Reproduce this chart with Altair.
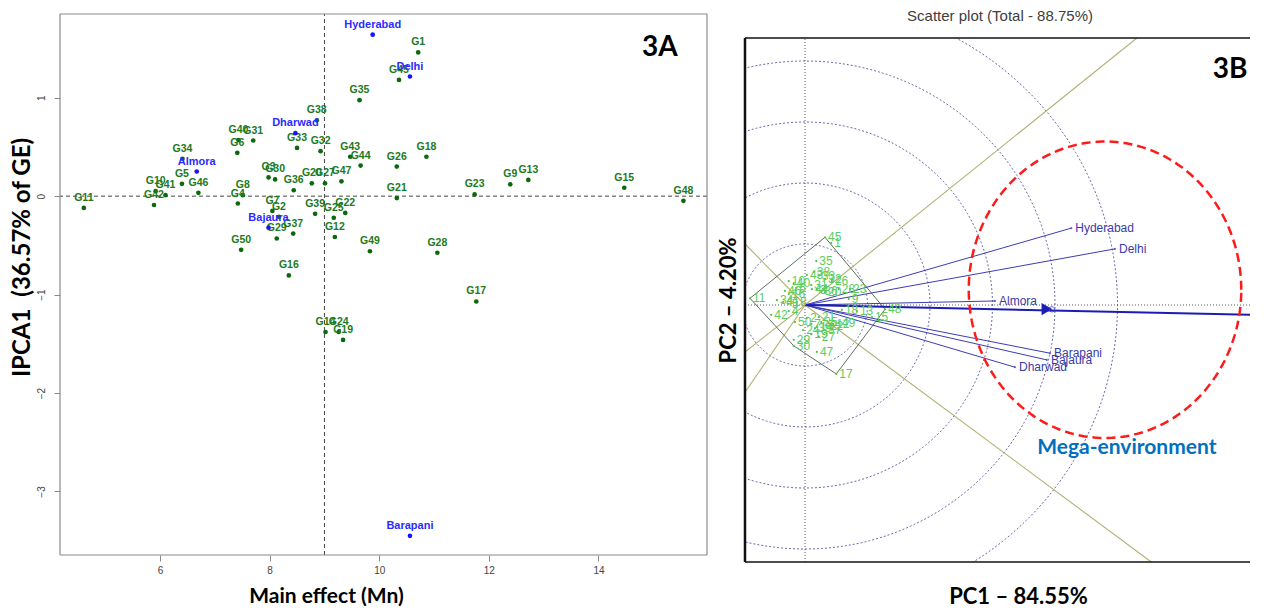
import altair as alt
import numpy as np
import pandas as pd

FONT = "Liberation Sans, Arial, sans-serif"
TFONT = "Lato, Open Sans, sans-serif"

# ---------------- Panel 3A : AMMI1 biplot ----------------
geno_a = ["G1", "G2", "G3", "G4", "G5", "G6", "G7", "G8", "G9", "G10",
          "G11", "G12", "G13", "G14", "G15", "G16", "G17", "G18", "G19", "G20",
          "G21", "G22", "G23", "G24", "G25", "G26", "G27", "G28", "G29", "G30",
          "G31", "G32", "G33", "G34", "G35", "G36", "G37", "G38", "G39", "G40",
          "G41", "G42", "G43", "G44", "G45", "G46", "G47", "G48", "G49", "G50"]
main_effect = [10.71, 8.17, 7.98, 7.42, 6.40, 7.41, 8.05, 7.51, 12.39, 5.92,
               4.61, 9.19, 12.72, 9.02, 14.47, 8.35, 11.77, 10.86, 9.34, 8.77,
               10.32, 9.38, 11.74, 9.26, 9.17, 10.32, 9.01, 11.06, 8.13, 8.10,
               7.70, 8.93, 8.50, 6.41, 9.64, 8.44, 8.43, 8.86, 8.83, 7.43,
               6.10, 5.89, 9.47, 9.66, 10.36, 6.70, 9.31, 15.55, 9.83, 7.48]
ipca1 = [1.46, -0.21, 0.19, -0.075, 0.125, 0.44, -0.15, 0.01, 0.12, 0.05,
         -0.12, -0.415, 0.165, -1.38, 0.085, -0.805, -1.07, 0.40, -1.46, 0.13,
         -0.02, -0.17, 0.017, -1.38, -0.22, 0.30, 0.13, -0.575, -0.43, 0.17,
         0.565, 0.457, 0.49, 0.38, 0.975, 0.06, -0.38, 0.77, -0.18, 0.57,
         0.01, -0.09, 0.40, 0.31, 1.18, 0.034, 0.15, -0.048, -0.56, -0.545]

env_names = ["Hyderabad", "Delhi", "Almora", "Dharwad", "Bajaura", "Barapani"]
env_main = [9.88, 10.56, 6.67, 8.47, 7.98, 10.56]
env_ipca1 = [1.64, 1.215, 0.25, 0.64, -0.32, -3.45]

grand_mean = [9.0]
a_xticks = [6, 8, 10, 12, 14]
a_yticks = [-3, -2, -1, 0, 1]
a_xdomain = [4.175, 15.98]
a_ydomain = [-3.645, 1.911]
a_frame_top = 1.85

# ---------------- Panel 3B : GGE biplot ----------------
geno_b = ["1", "2", "3", "4", "5", "6", "7", "8", "9", "10",
          "11", "12", "13", "14", "15", "16", "17", "18", "19", "20",
          "21", "22", "23", "24", "25", "26", "27", "28", "29", "30",
          "31", "32", "33", "34", "35", "36", "37", "38", "39", "40",
          "41", "42", "43", "44", "45", "46", "47", "48", "49", "50"]
pc1 = [0.42, 0.03, 0.19, -0.26, -0.26, -0.14, 0.10, -0.13, 0.70, -0.26,
       -0.88, 0.45, 0.83, 0.19, 1.07, -0.26, 0.50, 0.59, 0.10, 0.32,
       0.22, 0.35, 0.72, -0.03, 0.26, 0.43, 0.22, 0.54, -0.18, -0.18,
       0.10, 0.32, 0.22, -0.45, 0.18, 0.26, 0.32, 0.14, 0.16, -0.18,
       -0.35, -0.54, 0.03, 0.11, 0.32, -0.32, 0.19, 1.28, 0.54, -0.16]
pc2 = [1.02, -0.21, 0.25, -0.10, 0.02, 0.28, -0.31, 0.05, 0.10, 0.39,
       0.11, -0.31, -0.10, -0.36, -0.20, 0.18, -1.13, -0.08, -0.48, 0.21,
       -0.20, -0.34, 0.26, -0.41, -0.28, 0.39, -0.52, 0.26, -0.57, -0.67,
       0.33, 0.43, 0.48, 0.08, 0.72, 0.23, -0.41, 0.54, -0.38, 0.36,
       0.05, -0.16, 0.49, 0.26, 1.11, 0.23, -0.77, -0.07, -0.30, -0.28]

b_env = ["Hyderabad", "Delhi", "Almora", "Barapani", "Bajaura", "Dharwad"]
b_env_pc1 = [4.26, 4.96, 3.04, 3.92, 3.87, 3.36]
b_env_pc2 = [1.26, 0.92, 0.066, -0.79, -0.90, -1.02]

hull_order = ["45", "48", "17", "30", "11", "45"]
ray_pc1 = [5.31, 5.54, -0.96, -0.96, -0.96]
ray_pc2 = [4.377, -4.213, 1.0, -0.77, -1.43]
circle_radii = [1, 2, 3, 4, 5]
aea_end = [7.12, -0.16]
aea_head = [3.87, -0.066]
aea_mark = [3.95, -0.07]
mega_center = [4.8, 0.25]
mega_radii = [2.18, 2.43]
b_xdomain = [-0.96, 7.12]
b_ydomain = [-4.213, 4.869]
b_frame_top = 4.377
b_title = "Scatter plot (Total - 88.75%)"

# ======================= Panel A chart =======================
xsA = alt.Scale(domain=a_xdomain, nice=False, zero=False)
ysA = alt.Scale(domain=a_ydomain, nice=False, zero=False)
axAx = alt.Axis(values=a_xticks, format="d", grid=False, domain=False, tickSize=6,
                tickColor="#8a8a8a", labelColor="#444444", labelFontSize=10, labelFont=FONT,
                labelPadding=4, title="Main effect (Mn)", titleFont=TFONT, titleFontSize=21,
                titleFontWeight="bold", titleColor="#000000", titlePadding=10, titleX=266)
axAy = alt.Axis(values=a_yticks, format="d", grid=False, domain=False, tickSize=6,
                tickColor="#8a8a8a", labelColor="#444444", labelFontSize=10, labelFont=FONT,
                labelAngle=-90, labelAlign="center", labelBaseline="bottom", labelPadding=8,
                title="IPCA1\u2002(36.57% of GE)", titleFont=TFONT, titleFontSize=24,
                titleFontWeight="bold", titleColor="#000000", titlePadding=2, titleY=249)


def XA(f):
    return alt.X(f, type="quantitative", scale=xsA, axis=axAx)


def YA(f):
    return alt.Y(f, type="quantitative", scale=ysA, axis=axAy)


dfA = pd.DataFrame({"x": main_effect, "y": ipca1, "label": geno_a})
dfAe = pd.DataFrame({"x": env_main, "y": env_ipca1, "label": env_names})

a_vline = alt.Chart(pd.DataFrame({"x": grand_mean, "y": [a_ydomain[0]], "y2": [a_frame_top]})).mark_rule(
    color="#444444", strokeDash=[4, 3], strokeWidth=1).encode(x=XA("x"), y=YA("y"), y2="y2")
a_hline = alt.Chart(pd.DataFrame({"y": [0]})).mark_rule(
    color="#444444", strokeDash=[4, 3], strokeWidth=1).encode(y=YA("y"))
a_pts = alt.Chart(dfA).mark_circle(size=22, color="#0b690b", opacity=1).encode(x=XA("x"), y=YA("y"))
a_lbl = alt.Chart(dfA).mark_text(dy=-10, fontSize=10.5, fontWeight="bold", font=FONT,
                                 color="#217a21").encode(x=XA("x"), y=YA("y"), text="label:N")
a_epts = alt.Chart(dfAe).mark_circle(size=22, color="#1414ff", opacity=1).encode(x=XA("x"), y=YA("y"))
a_elbl = alt.Chart(dfAe).mark_text(dy=-10, fontSize=11, fontWeight="bold", font=FONT,
                                   color="#2b2bff").encode(x=XA("x"), y=YA("y"), text="label:N")
a_tag = alt.Chart(pd.DataFrame({"x": [15.12], "y": [1.50], "t": ["3A"]})).mark_text(
    fontSize=28, fontWeight="bold", font=TFONT, color="#000000").encode(
    x=XA("x"), y=YA("y"), text="t:N")

# frame of panel A
a_fr_v = alt.Chart(pd.DataFrame({"x": a_xdomain, "y": [a_ydomain[0]] * 2,
                                 "y2": [a_frame_top] * 2})).mark_rule(
    color="#8a8a8a", strokeWidth=1.2).encode(x=XA("x"), y=YA("y"), y2="y2")
a_fr_h = alt.Chart(pd.DataFrame({"y": [a_ydomain[0], a_frame_top]})).mark_rule(
    color="#8a8a8a", strokeWidth=1.2).encode(y=YA("y"))

chartA = alt.layer(a_vline, a_hline, a_pts, a_lbl, a_epts, a_elbl, a_tag,
                   a_fr_v, a_fr_h).properties(
    width=647, height=547,
    view=alt.ViewBackground(strokeOpacity=0),
)

# ======================= Panel B chart =======================
xsB = alt.Scale(domain=b_xdomain, nice=False, zero=False)
ysB = alt.Scale(domain=b_ydomain, nice=False, zero=False)
axBx = alt.Axis(labels=False, ticks=False, domain=False, grid=False,
                title="PC1 \u2013 84.55%", titleFont=TFONT, titleFontSize=22,
                titleFontWeight="bold", titleColor="#000000", titlePadding=24, titleX=273)
axBy = alt.Axis(labels=False, ticks=False, domain=False, grid=False,
                title="PC2 \u2013 4.20%", titleFont=TFONT, titleFontSize=22,
                titleFontWeight="bold", titleColor="#000000", titlePadding=5, titleY=292)


def XB(f):
    return alt.X(f, type="quantitative", scale=xsB, axis=axBx)


def YB(f):
    return alt.Y(f, type="quantitative", scale=ysB, axis=axBy)


# concentric circles (geometry around the origin), kept below the frame top
ang = np.linspace(np.pi / 2, np.pi / 2 + 2 * np.pi, 361)
circ_rows = []
for r in circle_radii:
    for i, a in enumerate(ang):
        yy = r * np.sin(a)
        if yy <= b_frame_top:
            circ_rows.append({"x": r * np.cos(a), "y": yy, "r": r, "i": i})
dfCirc = pd.DataFrame(circ_rows)
b_circ = alt.Chart(dfCirc).mark_line(clip=True, color="#6868ad", strokeWidth=1,
                                     strokeDash=[2, 2]).encode(
    x=XB("x"), y=YB("y"), detail="r:N", order="i:Q")

b_v0 = alt.Chart(pd.DataFrame({"x": [0], "y": [b_ydomain[0]], "y2": [b_frame_top]})).mark_rule(
    color="#333333", strokeWidth=0.8, strokeDash=[1, 2]).encode(x=XB("x"), y=YB("y"), y2="y2")
b_h0 = alt.Chart(pd.DataFrame({"y": [0]})).mark_rule(
    color="#333333", strokeWidth=0.8, strokeDash=[1, 2]).encode(y=YB("y"))

dfRay = pd.DataFrame({"x": [0] * len(ray_pc1), "y": [0] * len(ray_pc2),
                      "x2": ray_pc1, "y2": ray_pc2})
b_rays = alt.Chart(dfRay).mark_rule(color="#b3b073", strokeWidth=1.1, clip=True).encode(
    x=XB("x"), y=YB("y"), x2="x2", y2="y2")

gidx = {g: k for k, g in enumerate(geno_b)}
dfHull = pd.DataFrame({"x": [pc1[gidx[g]] for g in hull_order],
                       "y": [pc2[gidx[g]] for g in hull_order],
                       "o": list(range(len(hull_order)))})
b_hull = alt.Chart(dfHull).mark_line(color="#5e6f5e", strokeWidth=1).encode(
    x=XB("x"), y=YB("y"), order="o:Q")

dfBe = pd.DataFrame({"x": [0] * len(b_env), "y": [0] * len(b_env),
                     "x2": b_env_pc1, "y2": b_env_pc2, "label": b_env})
b_evec = alt.Chart(dfBe).mark_rule(color="#3c3cb4", strokeWidth=1).encode(
    x=XB("x"), y=YB("y"), x2="x2", y2="y2")
b_eend = alt.Chart(dfBe).mark_point(shape="circle", size=5, filled=True, color="#3c3cb4").encode(
    x=XB("x2"), y=YB("y2"))
b_elbl = alt.Chart(dfBe).mark_text(align="left", baseline="middle", dx=4, fontSize=12,
                                   font=FONT, color="#3a3aa8").encode(
    x=XB("x2"), y=YB("y2"), text="label:N")

dfAea = pd.DataFrame({"x": [0], "y": [0], "x2": [aea_end[0]], "y2": [aea_end[1]]})
b_aea = alt.Chart(dfAea).mark_rule(color="#1c1cb4", strokeWidth=2, clip=True).encode(
    x=XB("x"), y=YB("y"), x2="x2", y2="y2")
b_head = alt.Chart(pd.DataFrame({"x": [aea_head[0]], "y": [aea_head[1]]})).mark_point(
    shape="triangle-right", size=150, filled=True, color="#1c1cb4", opacity=1).encode(
    x=XB("x"), y=YB("y"))
b_omark = alt.Chart(pd.DataFrame({"x": [aea_mark[0]], "y": [aea_mark[1]]})).mark_point(
    shape="circle", size=30, filled=False, color="#3c3cb4", strokeWidth=1).encode(
    x=XB("x"), y=YB("y"))

ang_e = np.linspace(0, 2 * np.pi, 241)
ell_rows = []
for i, a in enumerate(ang_e):
    ell_rows.append({"x": mega_center[0] + mega_radii[0] * np.cos(a),
                     "y": mega_center[1] + mega_radii[1] * np.sin(a), "i": i})
dfEll = pd.DataFrame(ell_rows)
b_ell = alt.Chart(dfEll).mark_line(color="#ff1a1a", strokeWidth=2.5, strokeDash=[9, 5],
                                   clip=True).encode(x=XB("x"), y=YB("y"), order="i:Q")

dfBg = pd.DataFrame({"x": pc1, "y": pc2, "label": geno_b})
b_gpts = alt.Chart(dfBg).mark_circle(size=5, color="#4fc24f", opacity=1).encode(
    x=XB("x"), y=YB("y"))
b_glbl = alt.Chart(dfBg).mark_text(align="left", baseline="middle", dx=3, fontSize=12,
                                   font=FONT, color="#5ccc5c").encode(
    x=XB("x"), y=YB("y"), text="label:N")

b_mega = alt.Chart(pd.DataFrame({"x": [5.15], "y": [-2.34], "t": ["Mega-environment"]})).mark_text(
    fontSize=21, fontWeight="bold", font=TFONT, color="#0070c0").encode(
    x=XB("x"), y=YB("y"), text="t:N")
b_tag = alt.Chart(pd.DataFrame({"x": [6.8], "y": [3.85], "t": ["3B"]})).mark_text(
    fontSize=28, fontWeight="bold", font=TFONT, color="#000000").encode(
    x=XB("x"), y=YB("y"), text="t:N")
b_ttl = alt.Chart(pd.DataFrame({"x": [3.12], "y": [4.74], "t": [b_title]})).mark_text(
    fontSize=15, font=FONT, color="#404040", baseline="middle").encode(
    x=XB("x"), y=YB("y"), text="t:N")

b_left = alt.Chart(pd.DataFrame({"x": [b_xdomain[0]], "y": [b_ydomain[0]],
                                 "y2": [b_frame_top]})).mark_rule(
    color="#111111", strokeWidth=2.5).encode(x=XB("x"), y=YB("y"), y2="y2")
b_top = alt.Chart(pd.DataFrame({"y": [b_frame_top]})).mark_rule(
    color="#111111", strokeWidth=1.5).encode(y=YB("y"))
b_bot = alt.Chart(pd.DataFrame({"y": [b_ydomain[0]]})).mark_rule(
    color="#111111", strokeWidth=1.5).encode(y=YB("y"))

chartB = alt.layer(b_circ, b_v0, b_h0, b_rays, b_hull, b_evec, b_aea, b_head, b_omark,
                   b_ell, b_gpts, b_glbl, b_eend, b_elbl, b_mega, b_tag, b_ttl,
                   b_left, b_top, b_bot).properties(
    width=505, height=554,
    view=alt.ViewBackground(strokeOpacity=0),
)

chart = alt.hconcat(chartA, chartB, spacing=9).properties(
    padding={"left": 2, "top": 0, "right": 0, "bottom": 0}
).configure(background="white")

chart.save("out.html", embed_options={"renderer": "svg", "actions": False})
